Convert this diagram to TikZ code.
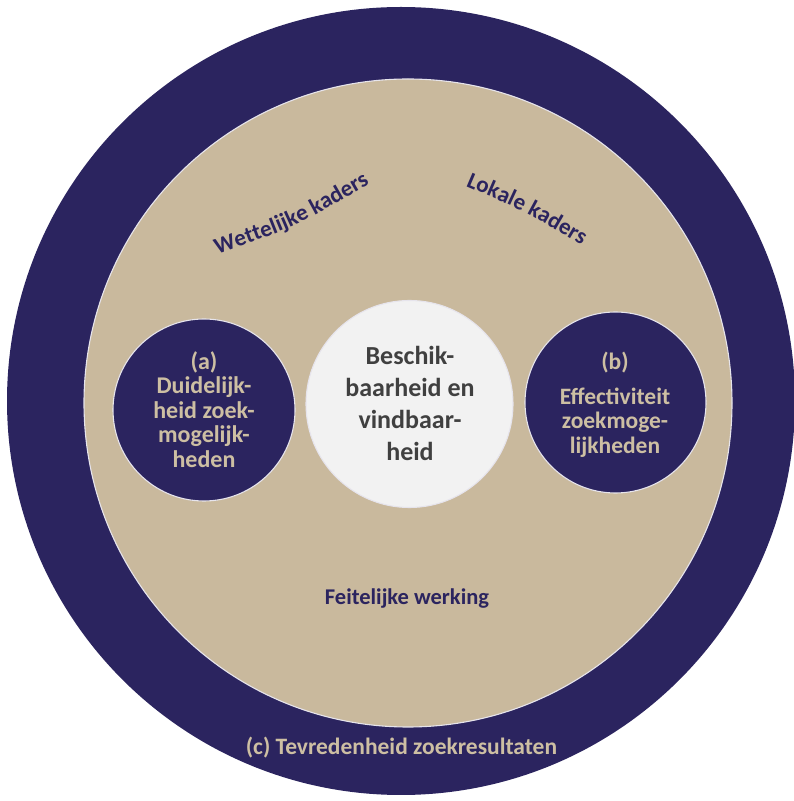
\documentclass[tikz,border=0pt]{standalone}
\usepackage{fontspec}
\setmainfont{Carlito}
\usetikzlibrary{decorations.text}
\definecolor{navy}{HTML}{2B245F}
\definecolor{sand}{HTML}{C9B99D}
\definecolor{sandtext}{HTML}{CDBFA3}
\definecolor{paper}{HTML}{F2F2F2}
\definecolor{greytext}{HTML}{404040}
\definecolor{rim}{HTML}{E6E4EC}
\tikzset{
  ring/.style={circle, draw=rim, line width=1.1pt, inner sep=0pt},
  darklabel/.style={font=\bfseries\fontsize{24}{24.5}\selectfont, text=sandtext, align=center, inner sep=0pt},
  midlabel/.style={font=\bfseries\fontsize{26}{32}\selectfont, text=greytext, align=center, inner sep=0pt},
  plainlabel/.style={font=\bfseries\fontsize{22.5}{26}\selectfont, inner sep=0pt, anchor=base}
}
\begin{document}
\begin{tikzpicture}[x=1pt,y=1pt]
\useasboundingbox (0,0) rectangle (794,801);
% outer ring
\node[circle, fill=navy, inner sep=0pt, minimum size=788pt] (outer) at (401,400) {};
% beige field
\node[ring, fill=sand, minimum size=648pt] (field) at (408,398) {};
% three inner circles
\node[ring, fill=navy, minimum size=182pt] (ca) at (204,391) {};
\node[ring, fill=paper, minimum size=207pt] (cm) at (409.5,397) {};
\node[ring, fill=navy, minimum size=181pt] (cb) at (615.5,398.5) {};
% texts in circles
\node[darklabel] (ta) at (204,391.5) {(a)\\Duidelijk-\\heid zoek-\\mogelijk-\\heden};
\node[midlabel] (tm) at (410,397.5) {Beschik-\\baarheid en\\vindbaar-\\heid};
\node[darklabel, font=\bfseries\fontsize{23.5}{24.5}\selectfont] (tb) at (615,396) {(b)\\[10pt]Effectiviteit\\zoekmoge-\\lijkheden};
% labels
\node[plainlabel, text=navy] (fw) at (407,196) {Feitelijke werking};
\node[plainlabel, text=sandtext, font=\bfseries\fontsize{23.5}{26}\selectfont] (tc) at (401.5,46) {(c) Tevredenheid zoekresultaten};
% curved labels
\path[decorate, decoration={text along path, text align=center,
  text={|\bfseries\fontsize{23}{26}\selectfont\color{navy}|Wettelijke kaders}}]
  (216,546) .. controls (296.9,574.7) .. (371,618);
\path[decorate, decoration={text along path, text align=center,
  text={|\bfseries\fontsize{23}{26}\selectfont\color{navy}|Lokale kaders}}]
  (463,616) .. controls (524,590) .. (584,554);
\end{tikzpicture}
\end{document}
